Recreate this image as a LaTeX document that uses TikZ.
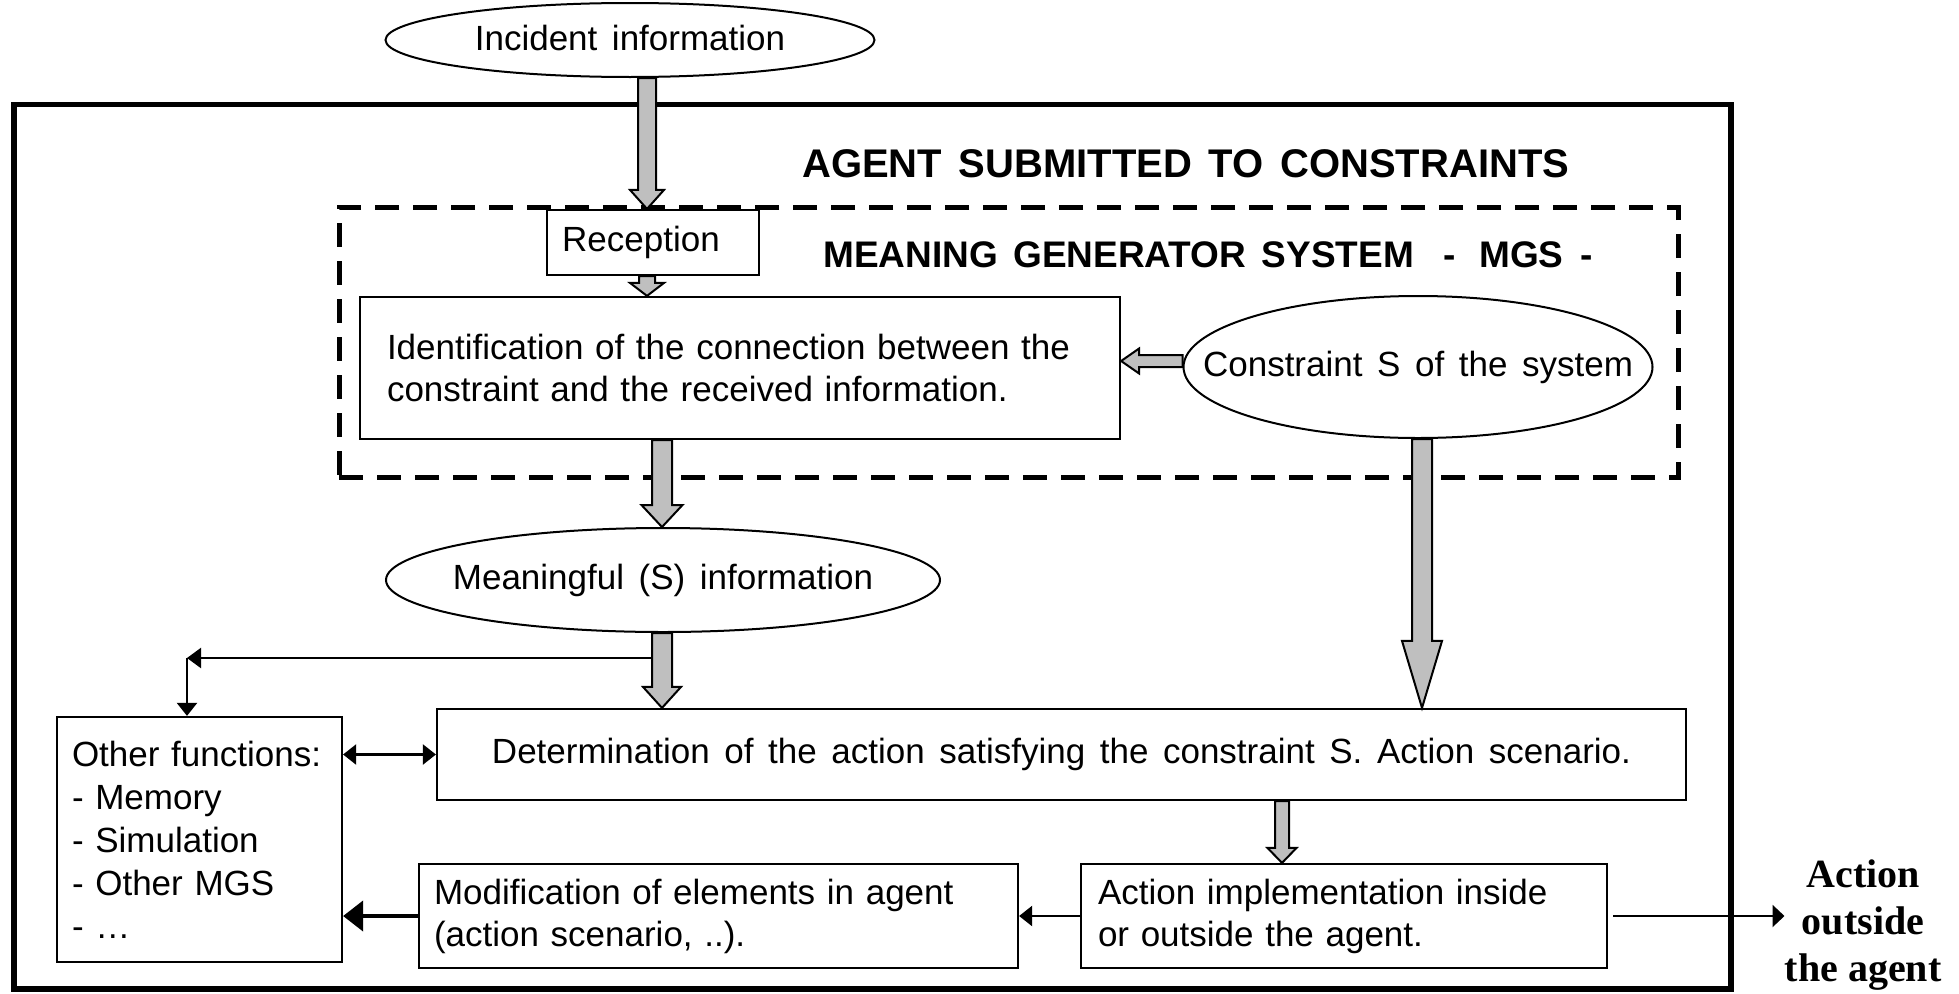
\documentclass[tikz,border=0pt]{standalone}
\usepackage{fontspec}
\setmainfont[WordSpace=1.5]{Liberation Sans}
\newfontfamily\timesfont{Liberation Serif}
\usetikzlibrary{shapes.geometric,arrows.meta,calc}
\definecolor{arrowgray}{RGB}{191,191,191}

% vertical block arrow: #1 x, #2 start anchor, #3 tip anchor, #4 shaft half width, #5 head half width, #6 head length
\newcommand{\gdown}[6]{%
  \draw[blockarrow] let \p1=(#2), \p2=(#3) in
    (#1pt-#4pt,\y1) -- (#1pt-#4pt,\y2+#6pt) -- (#1pt-#5pt,\y2+#6pt) -- (#1pt,\y2)
    -- (#1pt+#5pt,\y2+#6pt) -- (#1pt+#4pt,\y2+#6pt) -- (#1pt+#4pt,\y1) -- cycle;}
% horizontal block arrow pointing left: #1 y
\newcommand{\gleft}[6]{%
  \draw[blockarrow] let \p1=(#2), \p2=(#3) in
    (\x1,-#1pt+#4pt) -- (\x2+#6pt,-#1pt+#4pt) -- (\x2+#6pt,-#1pt+#5pt) -- (\x2,-#1pt)
    -- (\x2+#6pt,-#1pt-#5pt) -- (\x2+#6pt,-#1pt-#4pt) -- (\x1,-#1pt-#4pt) -- cycle;}
% text of fixed-size ellipses (zero width so the ellipse keeps its size)
\newcommand{\elltext}[2][0pt]{\makebox[0pt]{\raisebox{#1}{#2}}}

\tikzset{
  txt/.style={font=\fontsize{35}{42}\selectfont},
  box/.style={txt, draw, line width=2.2pt, fill=white, inner sep=0pt},
  ell/.style={txt, draw, ellipse, line width=2pt, fill=white, inner sep=0pt},
  outerbox/.style={draw, line width=5.5pt, inner sep=0pt},
  mgsbox/.style={draw, line width=5pt, dash pattern=on 24pt off 14pt, inner sep=0pt},
  bigtitle/.style={font=\fontsize{40}{48}\selectfont\bfseries, inner sep=0pt},
  subtitle/.style={font=\fontsize{37}{44}\selectfont\bfseries, inner sep=0pt},
  outtext/.style={font=\fontsize{40}{47}\selectfont\timesfont\bfseries, align=center, inner sep=0pt},
  blockarrow/.style={draw=black, fill=arrowgray, line width=2pt, line join=miter},
  conn/.style={line width=2.2pt},
  tip/.style={-{Triangle[length=13pt,width=20pt]}}
}

\begin{document}
\begin{tikzpicture}[x=1pt,y=-1pt]
\useasboundingbox (0,0) rectangle (1959,993);

% containers
\node[outerbox, minimum width=1717pt, minimum height=884.5pt] (outer) at (872.5,546.75) {};
\node[mgsbox, minimum width=1339pt, minimum height=270pt] (mgs) at (1008.5,342) {};

% titles
\node[bigtitle, anchor=base west] (agenttitle) at (802,177) {AGENT SUBMITTED TO CONSTRAINTS};
\node[subtitle, anchor=base west] (mgstitle) at (823,267)
  {MEANING GENERATOR SYSTEM\hspace{30pt}-\hspace{23pt}MGS\hspace{17pt}-};

% nodes
\node[ell, minimum width=489pt, minimum height=74pt] (inc) at (630,40) {\elltext[5pt]{Incident information}};
\node[box, minimum width=212pt, minimum height=65pt] (rec) at (653,242.5) {\hspace*{-24pt}Reception};
\node[box, text width=706pt, inner xsep=27pt, minimum height=142pt, align=left] (ident) at (740,368)
  {Identification of the connection between the\\constraint and the received information.};
\node[ell, minimum width=469pt, minimum height=142pt] (cons) at (1418,367) {\elltext{Constraint S of the system}};
\node[ell, minimum width=554pt, minimum height=104pt] (mean) at (663,580) {\elltext[-4pt]{Meaningful (S) information}};
\node[box, minimum width=1249pt, minimum height=91pt] (det) at (1061.5,754.5)
  {Determination of the action satisfying the constraint S. Action scenario.};
\node[box, font=\fontsize{35}{43}\selectfont, text width=255pt, inner xsep=15pt, minimum height=245pt, align=left] (other) at (199.5,839.5)
  {\mbox{Other functions:}\\- Memory\\- Simulation\\- Other MGS\\- …};
\node[box, text width=569pt, inner xsep=15pt, minimum height=104pt, align=left] (mod) at (718.5,916)
  {Modification of elements in agent\\(action scenario, ..).};
\node[box, text width=492pt, inner xsep=17pt, minimum height=104pt, align=left] (act) at (1344,916)
  {Action implementation inside\\or outside the agent.};
\node[outtext] (outside) at (1863,925) {Action\\outside\\the agent};

% block arrows
\gdown{647}{inc.south}{rec.north}{9}{17}{19}
\gdown{647}{rec.south}{ident.north}{8}{17}{13}
\gleft{361}{cons.west}{ident.east}{6}{12.5}{18}
\gdown{662}{ident.south}{mean.north}{10}{20.5}{22}
\gdown{662}{mean.south}{det.north}{10}{19}{21}
\gdown{1422}{cons.south}{det.north}{10}{20}{67}
\gdown{1282}{det.south}{act.north}{7}{14.5}{15}

% thin connectors
\coordinate (split) at (652,658);
\coordinate (corner) at (187,658);
\draw[conn, -{Triangle[length=14pt,width=20pt]}] (split) -- (corner);
\draw[conn, tip] (corner) -- (corner |- other.north);
\draw[conn, {Triangle[length=13pt,width=20pt]}-{Triangle[length=13pt,width=20pt]}] (other.east |- det.west) -- (det.west);
\draw[conn, tip] (act.west) -- (mod.east);
\draw[line width=4pt, -{Triangle[length=20pt,width=30pt]}] (mod.west) -- (mod.west -| other.east);
\draw[conn, -{Triangle[length=12pt,width=22pt]}, shorten <=5pt] (act.east) -- (act.east -| outside.west);
\end{tikzpicture}
\end{document}
